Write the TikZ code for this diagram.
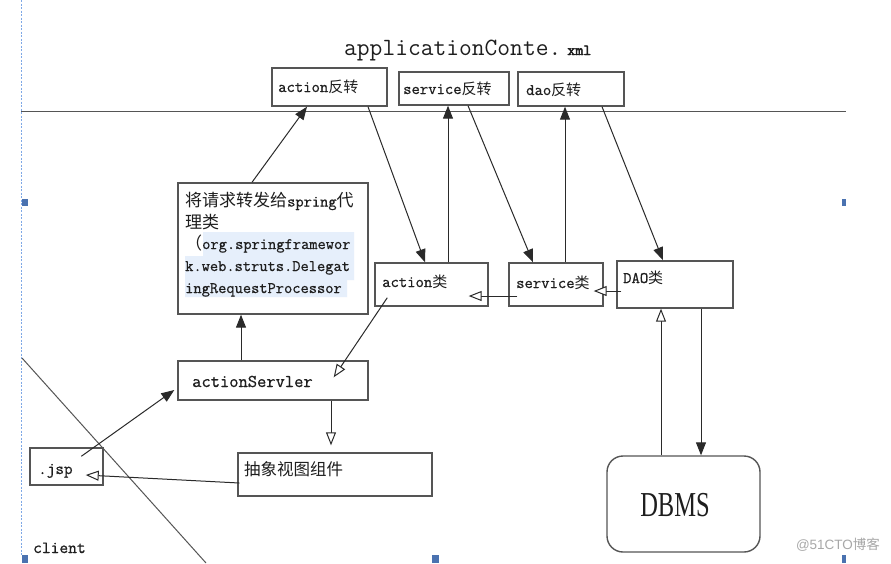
\documentclass[tikz,border=0pt]{standalone}
\usepackage{fontspec}
\usepackage{graphicx}
\setmainfont{Latin Modern Mono}[RawFeature={embolden=0.8}]
\newfontfamily\thintt{Latin Modern Mono}
\newfontfamily\boldtt{Latin Modern Mono}[RawFeature={embolden=3}]
\newfontfamily\cjk{Noto Sans CJK SC}
\newfontfamily\dbfont{Liberation Serif}
\newfontfamily\wmfont{Liberation Sans}
\usetikzlibrary{arrows.meta,calc}
\newcommand\zh[2]{{\cjk\fontsize{#1}{#1}\selectfont #2}}
\definecolor{boxgray}{HTML}{555555}
\definecolor{linegray}{HTML}{2A2A2A}
\definecolor{handleblue}{HTML}{4A72B0}
\definecolor{dashblue}{HTML}{7EA8E6}
\definecolor{hlblue}{HTML}{E6EFFB}
\definecolor{wmgray}{HTML}{A8A8A8}
\definecolor{txt}{HTML}{1E1E1E}
\begin{document}
\begin{tikzpicture}[x=1pt,y=-1pt,
  box/.style={draw=boxgray,line width=1.4pt,inner sep=0pt},
  lbl/.style={anchor=base west,inner sep=0pt,text=txt},
  farrow/.style={draw=linegray,line width=1pt,-{Triangle[length=13pt,width=10pt]}},
  oarrow/.style={draw=linegray,line width=1pt,-{Triangle[open,length=13pt,width=10pt,fill=white]}},
  handle/.style={fill=handleblue,draw=none}
]
\useasboundingbox (0,0) rectangle (891,563);
\fill[white] (0,0) rectangle (891,563);

% frame lines
\draw[dashblue,line width=0.9pt,dash pattern=on 2pt off 1.5pt] (21.5,0) -- (21.5,556);
\draw[boxgray,line width=1.5pt] (21,111.5) -- (846,111.5);
\draw[boxgray,line width=1pt] (22,358) -- (206,563);

% selection handles
\fill[handle] (22,199) rectangle (28,206);
\fill[handle] (842,199) rectangle (846,206);
\fill[handle] (22,555) rectangle (28,563);
\fill[handle] (432,555) rectangle (439,563);
\fill[handle] (842,555) rectangle (846,563);

% highlight in proxy box
\fill[hlblue] (203,232) -- (354,232) -- (354,280) -- (347,280) -- (347,297) -- (185,297) -- (185,256) -- (203,256) -- cycle;

% boxes
\node[box,minimum width=115pt,minimum height=38pt] (ar) at (329.5,87) {};
\node[box,minimum width=110pt,minimum height=33pt] (sr) at (454,88.5) {};
\node[box,minimum width=106pt,minimum height=34pt] (dr) at (571,89) {};
\node[box,minimum width=190pt,minimum height=131pt] (proxy) at (273,248.5) {};
\node[box,minimum width=113pt,minimum height=43pt] (ac) at (431.5,284.5) {};
\node[box,minimum width=94pt,minimum height=43pt] (sc) at (556,284.5) {};
\node[box,minimum width=116pt,minimum height=47pt] (dc) at (675,284.5) {};
\node[box,minimum width=190pt,minimum height=39pt] (as) at (273,380.5) {};
\node[box,minimum width=73pt,minimum height=37pt] (jsp) at (66.5,466.5) {};
\node[box,minimum width=194pt,minimum height=43pt] (view) at (335,474.5) {};
\node[box,rounded corners=16pt,minimum width=153pt,minimum height=96pt] (db) at (683.5,504) {};

% arrows
\draw[farrow] (252,0 |- proxy.north) -- (307,0 |- ar.south);
\draw[farrow] (368,0 |- ar.south) -- (425,0 |- ac.north);
\draw[farrow] (448,0 |- ac.north) -- (448,0 |- sr.south);
\draw[farrow] (468,0 |- sr.south) -- (533,0 |- sc.north);
\draw[farrow] (565,0 |- sc.north) -- (565,0 |- dr.south);
\draw[farrow] (602,0 |- dr.south) -- (663,0 |- dc.north);
\draw[oarrow] ([shift={(9,11.5)}]sc.west) -- ([shift={(-20,11.5)}]ac.east);
\draw[oarrow] ([shift={(5,6.5)}]dc.west) -- ([shift={(-10,6.5)}]sc.east);
\draw[oarrow] (661,0 |- db.north) -- (661,0 |- dc.south);
\draw[farrow] (701,0 |- dc.south) -- (701,0 |- db.north);
\draw[oarrow] ([shift={(13,-9)}]ac.south west) -- ([shift={(-35,17)}]as.north east);
\draw[farrow] (241,0 |- as.north) -- (241,0 |- proxy.south);
\draw[farrow] ([shift={(52,9)}]jsp.north west) -- ([shift={(-3,9.5)}]as.west);
\draw[oarrow,shorten >=7pt] (331,0 |- as.south) -- (331,0 |- view.north);
\draw[oarrow] ([shift={(2,8.5)}]view.west) -- ([shift={(-18,8.5)}]jsp.east);

% texts
\node[lbl,font=\thintt\fontsize{24.8}{24.8}\selectfont] (title) at (344,55) {applicationConte.\hspace{6pt}{\boldtt\fontsize{15.5}{15.5}\selectfont xml}};
\node[lbl,font=\fontsize{16.2}{16.2}\selectfont] (tar) at (278,92) {action\zh{15}{反转}};
\node[lbl,font=\fontsize{16.2}{16.2}\selectfont] (tsr) at (403,94) {service\zh{15}{反转}};
\node[lbl,font=\fontsize{16.2}{16.2}\selectfont] (tdr) at (526,95) {dao\zh{15}{反转}};
\node[lbl,font=\fontsize{16}{16}\selectfont] (p1) at (185,206.5) {\zh{17}{将请求转发给}spring\zh{17}{代}};
\node[lbl,font=\fontsize{16}{16}\selectfont] (p2) at (185,228.5) {\zh{17}{理类}};
\node[lbl,font=\fontsize{16}{16}\selectfont] (p3) at (185,249) {\zh{17}{（}org.springframewor};
\node[lbl,font=\fontsize{16}{16}\selectfont] (p4) at (185,271) {k.web.struts.Delegat};
\node[lbl,font=\fontsize{16}{16}\selectfont] (p5) at (185,293) {ingRequestProcessor};
\node[lbl,font=\fontsize{16.2}{16.2}\selectfont] (tac) at (382,287) {action\zh{15}{类}};
\node[lbl,font=\fontsize{16.2}{16.2}\selectfont] (tsc) at (516,288) {service\zh{15}{类}};
\node[lbl,font=\fontsize{16.2}{16.2}\selectfont] (tdc) at (623,283) {DAO\zh{15}{类}};
\node[lbl,font=\fontsize{18}{18}\selectfont] (tas) at (192,387) {actionServler};
\node[lbl,font=\fontsize{16.7}{16.7}\selectfont] (tjsp) at (38,474) {.jsp};
\node[lbl] (tview) at (244,475) {\zh{16.5}{抽象视图组件}};
\node[lbl,font=\fontsize{17}{17}\selectfont] (tclient) at (33,553) {client};
\node[inner sep=0pt,text=txt,font=\dbfont\fontsize{35}{35}\selectfont] (tdb) at (675,505) {\scalebox{0.7}[1]{DBMS}};
\node[inner sep=0pt,text=wmgray,font=\wmfont\fontsize{13.5}{13.5}\selectfont] (wm) at (838,545) {@51CTO{\cjk 博客}};
\end{tikzpicture}
\end{document}
